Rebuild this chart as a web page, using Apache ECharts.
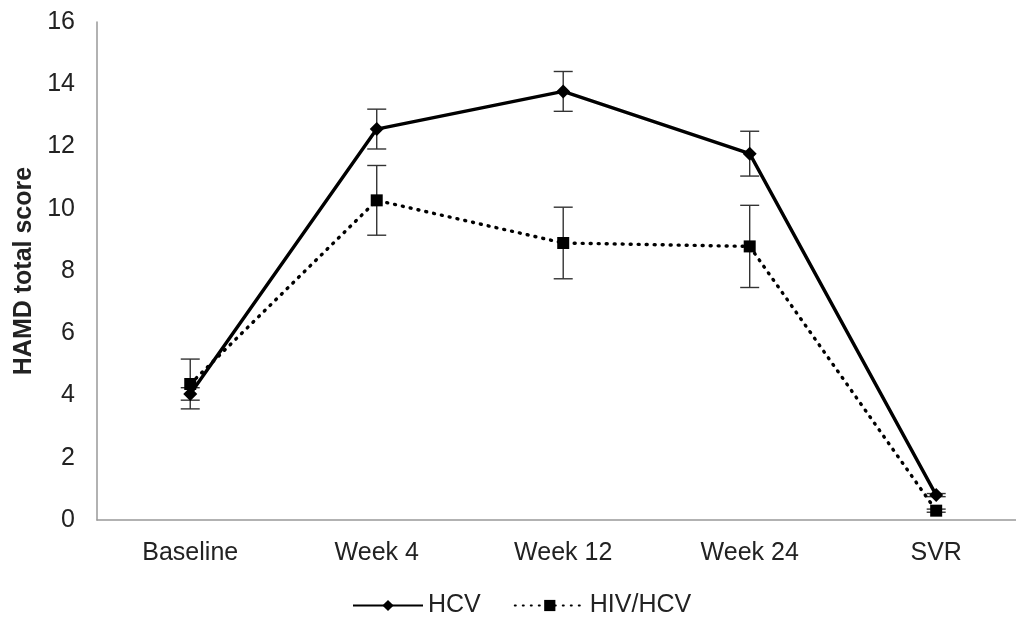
<!DOCTYPE html>
<html><head><meta charset="utf-8">
<script src="https://cdn.jsdelivr.net/npm/echarts@6/dist/echarts.min.js"></script>
<style>html,body{margin:0;padding:0;background:#fff}#c{width:1016px;height:619px}</style>
</head><body><div id="c"></div>
<script>
var categories = ['Baseline', 'Week 4', 'Week 12', 'Week 24', 'SVR'];
var hcv = [4.05, 12.56, 13.77, 11.77, 0.80];
var hcvErr = [0.2, 0.64, 0.64, 0.72, 0.05];
var hivHcv = [4.37, 10.27, 8.90, 8.79, 0.30];
var hivHcvErr = [0.8, 1.12, 1.15, 1.32, 0.05];
var yTicks = [0, 2, 4, 6, 8, 10, 12, 14, 16];

var font = 'Liberation Sans, Arial, sans-serif';
var catIdx = categories.map(function(c,i){ return i; });
function pts(vals){ return vals.map(function(v,i){ return [i, v]; }); }
function errData(vals, errs){
  return vals.map(function(v,i){ return [i, v - errs[i], v + errs[i]]; });
}
function errRender(params, api){
  var x = api.value(0);
  var lo = api.coord([x, api.value(1)]);
  var hi = api.coord([x, api.value(2)]);
  var w = 9.5;
  var st = {stroke:'#333', lineWidth:1.4};
  return {type:'group', children:[
    {type:'line', shape:{x1:lo[0],y1:lo[1],x2:hi[0],y2:hi[1]}, style:st},
    {type:'line', shape:{x1:lo[0]-w,y1:lo[1],x2:lo[0]+w,y2:lo[1]}, style:st},
    {type:'line', shape:{x1:hi[0]-w,y1:hi[1],x2:hi[0]+w,y2:hi[1]}, style:st}
  ]};
}
var chart = echarts.init(document.getElementById('c'));
chart.setOption({
  animation:false,
  backgroundColor:'#fff',
  grid:{left:97, right:0, top:22, bottom:99},
  legend:{
    top:588, left:347, itemWidth:70, itemHeight:14, itemGap:33,
    textStyle:{fontFamily:font, fontSize:25, color:'#222'},
    data:['HCV','HIV/HCV']
  },
  xAxis:{
    type:'value', min:-0.5, max:4.428,
    axisLine:{show:true, onZero:false, lineStyle:{color:'#999', width:1.5}},
    axisTick:{show:false},
    splitLine:{show:false},
    axisLabel:{fontFamily:font, fontSize:25, color:'#222', margin:21,
      customValues:catIdx,
      formatter:function(v){ var i = Math.round(v); return categories[i] || ''; }}
  },
  yAxis:{
    type:'value', min:0, max:16, interval:2,
    name:'HAMD total score', nameLocation:'middle', nameGap:60,
    nameTextStyle:{fontFamily:font, fontSize:25, fontWeight:'bold', color:'#222'},
    axisLine:{show:true, onZero:false, lineStyle:{color:'#999', width:1.5}},
    axisTick:{show:false},
    splitLine:{show:false},
    axisLabel:{fontFamily:font, fontSize:25, color:'#222', margin:22,
      formatter:function(v){ return yTicks.indexOf(v) >= 0 ? String(v) : ''; }}
  },
  series:[
    {type:'custom', name:'errHCV', renderItem:errRender, data:errData(hcv,hcvErr), z:1, silent:true},
    {type:'custom', name:'errHIV', renderItem:errRender, data:errData(hivHcv,hivHcvErr), z:1, silent:true},
    {type:'line', name:'HIV/HCV', data:pts(hivHcv), symbol:'rect', symbolSize:12, z:3,
      lineStyle:{color:'#000', width:3.4, type:[1,7], cap:'round'}, itemStyle:{color:'#000'}},
    {type:'line', name:'HCV', data:pts(hcv), symbol:'diamond', symbolSize:14, z:4,
      lineStyle:{color:'#000', width:3.4}, itemStyle:{color:'#000'}}
  ]
});
</script>
</body></html>
